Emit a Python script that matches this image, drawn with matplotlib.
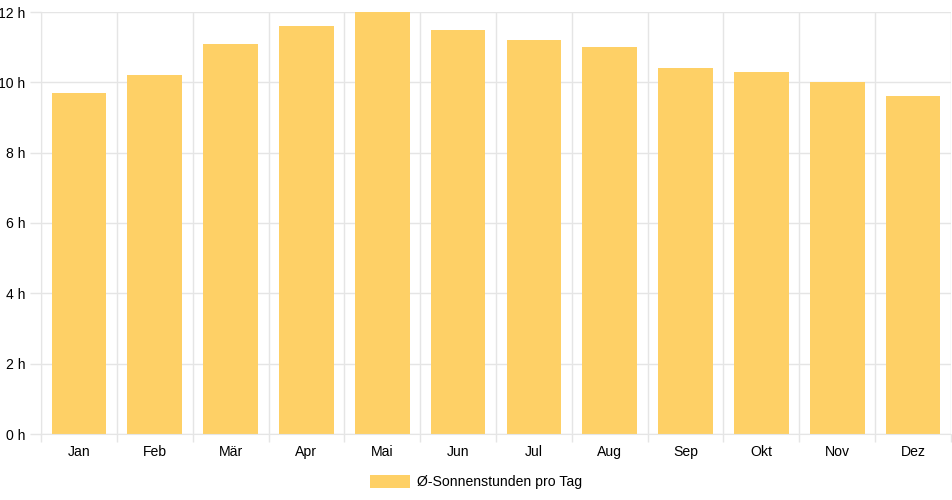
import numpy as np
import matplotlib.pyplot as plt
from matplotlib.ticker import FixedLocator

plt.rcParams['font.family'] = ['Liberation Sans', 'DejaVu Sans']

months = ['Jan', 'Feb', 'Mär', 'Apr', 'Mai', 'Jun', 'Jul', 'Aug', 'Sep', 'Okt', 'Nov', 'Dez']
sun_hours = [9.7, 10.2, 11.1, 11.6, 12.0, 11.5, 11.2, 11.0, 10.4, 10.3, 10.0, 9.6]
y_ticks = [0, 2, 4, 6, 8, 10, 12]

bar_color = '#fed066'
grid_color = '#e5e5e5'
px = 72 / 100
fs = 14 * px

fig = plt.figure(figsize=(9.52, 5), dpi=100)
ax = fig.add_axes([41 / 952, 66 / 500, 910 / 952, 422 / 500])

x = np.arange(len(months))
ax.bar(x, sun_hours, width=0.72, color=bar_color, label='Ø-Sonnenstunden pro Tag', zorder=2)

ax.set_xlim(-0.5, len(months) - 0.5)
ax.set_ylim(0, 12)

ax.set_xticks(x)
ax.set_xticklabels(months)
ax.xaxis.set_minor_locator(FixedLocator(np.arange(-0.5, len(months), 1)))
ax.set_yticks(y_ticks)
ax.set_yticklabels([f'{t} h' for t in y_ticks])

ax.tick_params(axis='x', which='major', length=0, pad=8, labelsize=fs, colors='#000000')
ax.tick_params(axis='x', which='minor', length=6, width=1, color=grid_color)
ax.tick_params(axis='y', length=8, width=1, color=grid_color, pad=3, labelsize=fs, labelcolor='#000000')

ax.grid(True, axis='y', color=grid_color, linewidth=1, zorder=0)
ax.grid(True, axis='x', which='minor', color=grid_color, linewidth=1, zorder=0)

for side in ['top', 'right']:
    ax.spines[side].set_visible(False)
ax.spines['left'].set_color(grid_color)
ax.spines['bottom'].set_color(grid_color)

fig.legend(loc='center', bbox_to_anchor=(0.5, 18 / 500), frameon=False,
           fontsize=fs, handlelength=2.86, handleheight=1.0, handletextpad=0.5)

fig.savefig('out.png', dpi=100)
